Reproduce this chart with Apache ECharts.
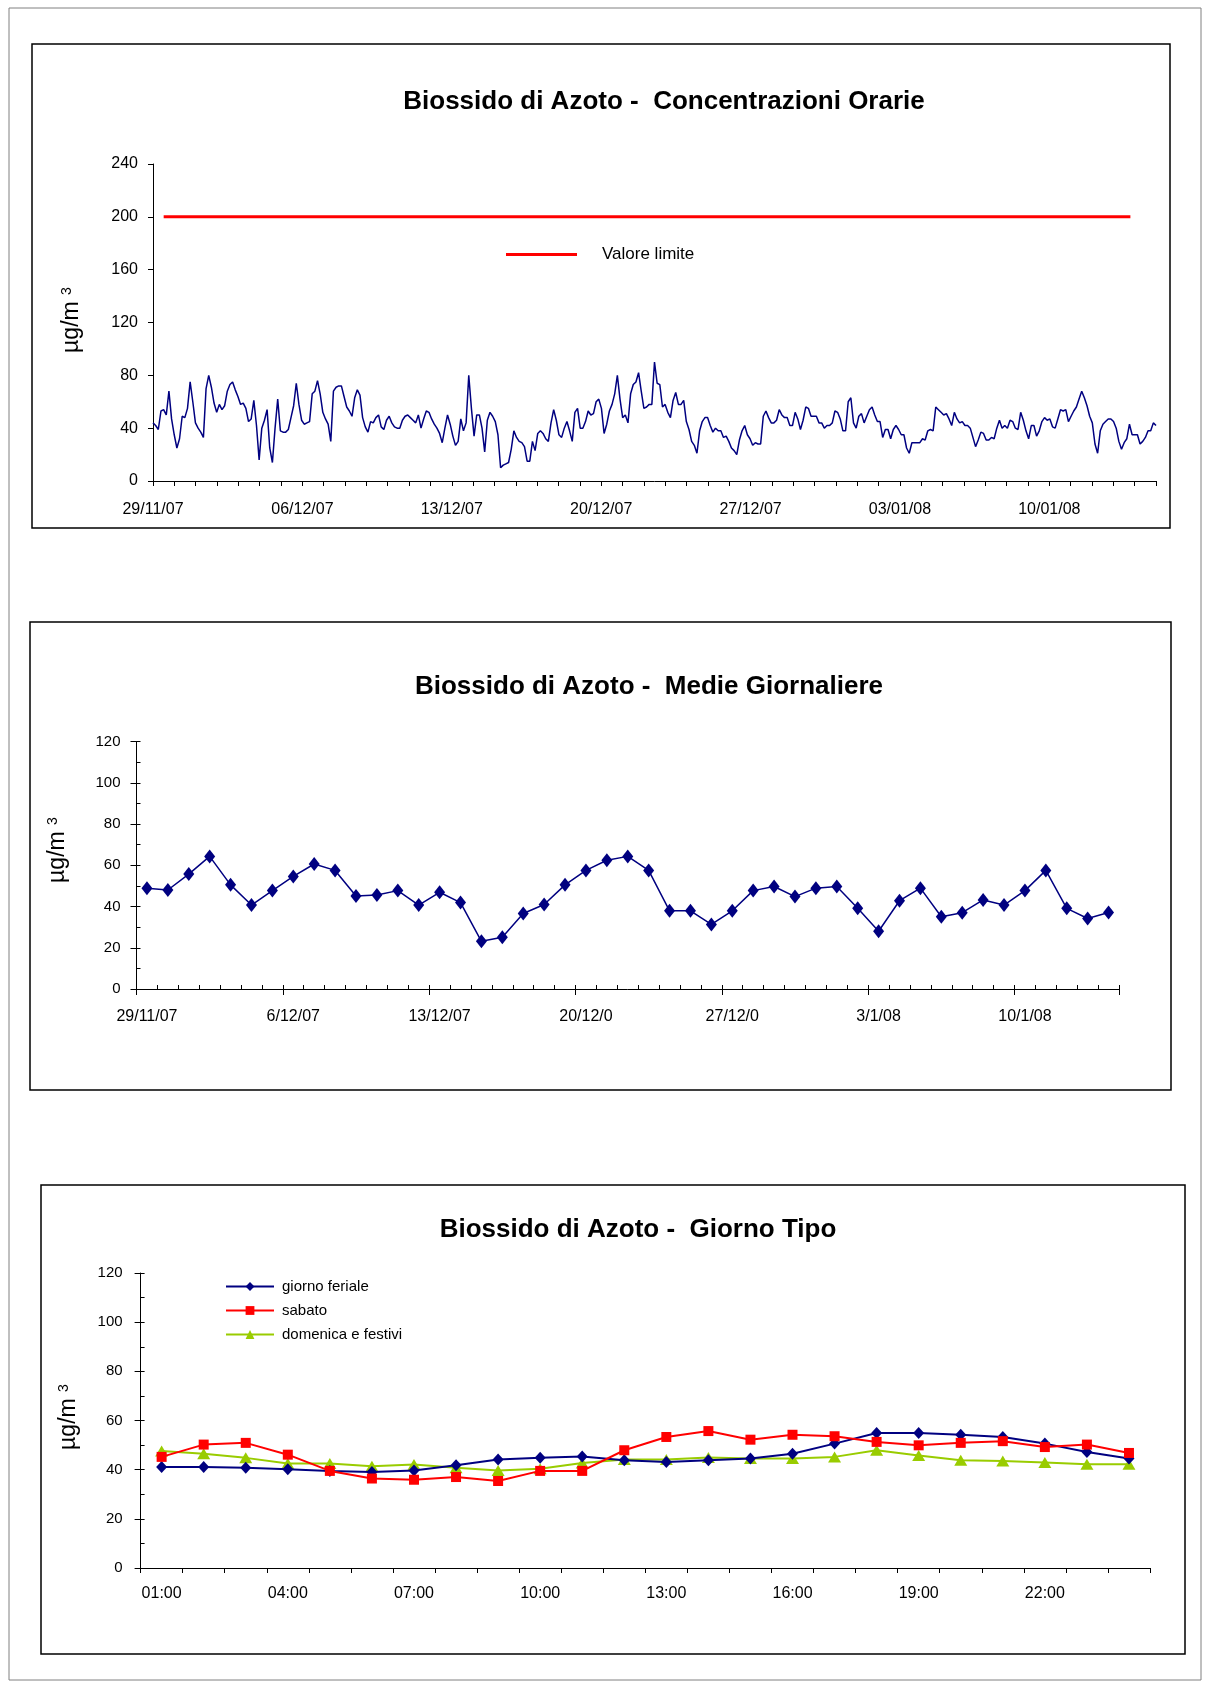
<!DOCTYPE html>
<html><head><meta charset="utf-8">
<script src="https://cdn.jsdelivr.net/npm/echarts@6/dist/echarts.min.js"></script>
<style>html,body{margin:0;padding:0;background:#fff}#c{width:1205px;height:1682px}</style>
</head><body><div id="c"></div><script>
// ---------- Chart 1: hourly concentrations (3-hour readings over 47 days) ----------
const hourlyValues = [
44,42,39,53,54,50,68,47,35,25,32,49,48,55,75,60,44,40,37,33,70,80,71,59,52,58,54,57,68,73,
75,69,64,58,59,55,45,47,61,42,16,40,46,54,25,14,40,62,38,37,37,39,48,57,74,58,46,43,44,45,66,68,
76,66,52,47,43,30,68,71,72,72,64,56,53,49,63,69,65,48,41,37,45,44,48,50,41,39,46,49,44,41,
40,40,46,49,50,48,46,44,50,40,47,53,52,47,43,40,36,29,40,50,43,34,27,30,47,38,44,80,55,34,50,50,40,22,
46,52,49,45,35,10,12,13,14,24,38,33,30,29,26,15,15,30,23,36,38,36,32,30,44,54,46,35,33,40,
45,38,30,52,55,40,40,45,53,50,51,60,62,55,36,43,53,58,66,80,62,48,50,44,66,73,75,82,68,55,56,58,58,
90,74,73,56,58,52,48,61,67,58,58,61,45,39,30,27,21,38,45,48,48,42,37,40,38,38,33,34,30,25,
23,20,31,38,42,35,32,27,29,28,28,49,53,48,44,44,46,54,50,48,48,42,42,52,47,39,46,56,55,49,49,49,44,44,
40,42,42,44,53,52,47,38,38,60,63,44,40,49,51,44,49,54,56,50,45,45,33,39,39,32,39,42,39,35,
35,25,21,29,29,29,29,32,31,38,39,38,56,54,52,50,51,47,42,52,47,44,45,42,42,40,33,26,31,37,36,31,31,
33,32,40,46,40,42,40,46,45,40,39,52,46,38,32,42,42,34,38,45,48,46,47,41,40,47,54,53,54,45,
49,53,56,62,68,63,57,49,44,28,21,38,43,45,47,47,45,40,30,24,29,32,43,35,35,35,28,30,33,38,38,44,42
];
const hourlyDays = 47;
const hourlyTickLabels = ['29/11/07','06/12/07','13/12/07','20/12/07','27/12/07','03/01/08','10/01/08'];
const limitValue = 200;
const limitSpanDays = [0.5, 45.8];

// ---------- Chart 2: daily means ----------
const dailyCategories = ['29/11/07','30/11/07','1/12/07','2/12/07','3/12/07','4/12/07','5/12/07','6/12/07','7/12/07','8/12/07',
'9/12/07','10/12/07','11/12/07','12/12/07','13/12/07','14/12/07','15/12/07','16/12/07','17/12/07','18/12/07','19/12/07',
'20/12/07','21/12/07','22/12/07','23/12/07','24/12/07','25/12/07','26/12/07','27/12/07','28/12/07','29/12/07','30/12/07',
'31/12/07','1/1/08','2/1/08','3/1/08','4/1/08','5/1/08','6/1/08','7/1/08','8/1/08','9/1/08','10/1/08','11/1/08','12/1/08',
'13/1/08','14/1/08'];
const dailyTickLabels = ['29/11/07','6/12/07','13/12/07','20/12/0','27/12/0','3/1/08','10/1/08'];
const dailyValues = [48.9,48.0,55.7,64.3,50.5,40.7,47.7,54.6,60.6,57.5,45.1,45.6,47.7,40.7,46.9,41.9,23.1,25.1,36.6,41.0,
50.5,57.5,62.4,64.3,57.5,37.9,37.9,31.3,37.9,47.7,49.7,44.8,48.9,49.7,39.1,28.0,42.8,48.9,35.0,37.0,43.2,40.7,47.7,57.5,
39.1,34.2,37.1];

// ---------- Chart 3: typical day ----------
const hourCategories = ['01:00','02:00','03:00','04:00','05:00','06:00','07:00','08:00','09:00','10:00','11:00','12:00',
'13:00','14:00','15:00','16:00','17:00','18:00','19:00','20:00','21:00','22:00','23:00','24:00'];
const ferialeValues = [41.1,41.1,40.8,40.2,39.5,39.1,39.7,41.8,44.1,44.8,45.4,43.8,43.1,43.8,44.5,46.5,50.6,54.9,54.9,54.2,53.3,50.6,47.2,44.5];
const sabatoValues = [45.2,50.2,50.9,46.1,39.5,36.4,35.9,37.0,35.4,39.5,39.5,47.9,53.3,55.7,52.2,54.2,53.6,51.3,49.9,50.9,51.6,49.2,50.2,46.8];
const domenicaValues = [47.6,46.5,44.8,42.5,42.5,41.4,42.1,40.8,39.7,40.4,42.7,44.1,44.1,44.9,44.5,44.5,45.2,47.9,45.8,43.8,43.5,42.9,42.2,42.2];

const FONT = '"Liberation Sans", Arial, sans-serif';
const NAVY = '#000080', RED = '#FF0000', GREEN = '#99CC00';
const lbl = (size) => ({fontFamily: FONT, fontSize: size, color: '#000'});

const hourlyData = hourlyValues.map((v, k) => [k * hourlyDays / (hourlyValues.length - 1), v]);

const chart = echarts.init(document.getElementById('c'), null, {renderer: 'canvas'});

function box(x, y, w, h, color, lw) {
  return {type: 'rect', shape: {x: x, y: y, width: w, height: h}, style: {fill: 'none', stroke: color, lineWidth: lw}, silent: true, z: 0};
}
function titleText(text, cx, cy) {
  return {type: 'text', x: cx, y: cy, style: {text: text, fontFamily: FONT, fontSize: 26, fontWeight: 'bold', fill: '#000', align: 'center', verticalAlign: 'middle'}};
}
function unitText(cx, cy) {
  return {type: 'text', x: cx, y: cy, rotation: Math.PI / 2,
    style: {text: '{m|µg/m }{s|3}', align: 'center', verticalAlign: 'middle', fill: '#000',
      rich: {m: {fontFamily: FONT, fontSize: 23, fill: '#000', verticalAlign: 'bottom'},
             s: {fontFamily: FONT, fontSize: 14, fill: '#000', verticalAlign: 'top'}}}};
}

const axisLineBlack = {show: true, lineStyle: {color: '#000', width: 1}};
const tickBlack = (len, inside) => ({show: true, inside: !!inside, length: len, lineStyle: {color: '#000', width: 1}});

const option = {
  animation: false,
  backgroundColor: '#fff',
  graphic: [
    box(9, 8, 1192, 1672, '#808080', 1),
    box(32, 44, 1138, 484, '#000', 1.5),
    box(30, 622, 1141, 468, '#000', 1.5),
    box(41, 1185, 1144, 469, '#000', 1.5),
    titleText('Biossido di Azoto -  Concentrazioni Orarie', 664, 102),
    titleText('Biossido di Azoto -  Medie Giornaliere', 649, 687),
    titleText('Biossido di Azoto -  Giorno Tipo', 638, 1230),
    unitText(72, 320),
    unitText(58, 850),
    unitText(69, 1417)
  ],
  legend: [
    {data: ['Valore limite'], left: 501, top: 241, icon: 'rect', itemWidth: 71, itemHeight: 3,
     selectedMode: false, textStyle: Object.assign(lbl(17), {padding: [0, 0, 0, 20]})},
    {data: ['giorno feriale', 'sabato', 'domenica e festivi'], orient: 'vertical', left: 220, top: 1274,
     itemWidth: 48, itemHeight: 11, itemGap: 9, selectedMode: false,
     textStyle: Object.assign(lbl(15), {padding: [0, 0, 0, 3]})}
  ],
  grid: [
    {left: 153, top: 164, width: 1003, height: 317},
    {left: 136.5, top: 741.5, width: 982.5, height: 247.5},
    {left: 140.6, top: 1273, width: 1009.4, height: 295}
  ],
  xAxis: [
    {type: 'value', gridIndex: 0, min: 0, max: hourlyDays, interval: 1, position: 'bottom',
     axisLine: axisLineBlack, axisTick: tickBlack(5), splitLine: {show: false},
     axisLabel: Object.assign(lbl(16), {margin: 21, hideOverlap: false, showMinLabel: true,
       formatter: v => (v % 7 === 0 && v / 7 < hourlyTickLabels.length) ? hourlyTickLabels[v / 7] : ''})},
    {type: 'category', gridIndex: 1, data: dailyCategories, boundaryGap: true, position: 'bottom',
     axisLine: axisLineBlack, axisTick: Object.assign(tickBlack(6), {interval: 6}), splitLine: {show: false},
     axisLabel: Object.assign(lbl(16), {margin: 20, interval: 6, formatter: (v, i) => dailyTickLabels[i / 7]})},
    {type: 'category', gridIndex: 1, data: dailyCategories, boundaryGap: true, position: 'bottom',
     axisLine: {show: false}, axisTick: Object.assign(tickBlack(4, true), {interval: 0}), axisLabel: {show: false}, splitLine: {show: false}},
    {type: 'category', gridIndex: 2, data: hourCategories, boundaryGap: true, position: 'bottom',
     axisLine: axisLineBlack, axisTick: Object.assign(tickBlack(5), {interval: 0}), splitLine: {show: false},
     axisLabel: Object.assign(lbl(16), {margin: 18, interval: 2})}
  ],
  yAxis: [
    {type: 'value', gridIndex: 0, min: 0, max: 240, interval: 40, position: 'left',
     axisLine: axisLineBlack, axisTick: tickBlack(5), splitLine: {show: false},
     axisLabel: Object.assign(lbl(16), {margin: 15})},
    {type: 'value', gridIndex: 1, min: 0, max: 120, interval: 20, position: 'left',
     axisLine: axisLineBlack, axisTick: tickBlack(6), splitLine: {show: false},
     axisLabel: Object.assign(lbl(15), {margin: 16})},
    {type: 'value', gridIndex: 1, min: 0, max: 120, interval: 10, position: 'left',
     axisLine: {show: false}, axisTick: tickBlack(4, true), axisLabel: {show: false}, splitLine: {show: false}},
    {type: 'value', gridIndex: 2, min: 0, max: 120, interval: 20, position: 'left',
     axisLine: axisLineBlack, axisTick: tickBlack(6), splitLine: {show: false},
     axisLabel: Object.assign(lbl(15), {margin: 18})},
    {type: 'value', gridIndex: 2, min: 0, max: 120, interval: 10, position: 'left',
     axisLine: {show: false}, axisTick: tickBlack(4, true), axisLabel: {show: false}, splitLine: {show: false}}
  ],
  series: [
    {name: 'Concentrazioni orarie', type: 'line', xAxisIndex: 0, yAxisIndex: 0, data: hourlyData,
     showSymbol: false, lineStyle: {color: NAVY, width: 1.5}, itemStyle: {color: NAVY}, z: 3},
    {name: 'Valore limite', type: 'line', xAxisIndex: 0, yAxisIndex: 0,
     data: [[limitSpanDays[0], limitValue], [limitSpanDays[1], limitValue]],
     showSymbol: false, lineStyle: {color: RED, width: 3}, itemStyle: {color: RED}, z: 2},
    {name: 'Medie giornaliere', type: 'line', xAxisIndex: 1, yAxisIndex: 1, data: dailyValues,
     symbol: 'diamond', symbolSize: [11, 14], showAllSymbol: true,
     lineStyle: {color: NAVY, width: 1.5}, itemStyle: {color: NAVY}},
    {name: 'giorno feriale', type: 'line', xAxisIndex: 3, yAxisIndex: 3, data: ferialeValues,
     symbol: 'diamond', symbolSize: [11, 12], showAllSymbol: true,
     lineStyle: {color: NAVY, width: 2}, itemStyle: {color: NAVY}, z: 3},
    {name: 'sabato', type: 'line', xAxisIndex: 3, yAxisIndex: 3, data: sabatoValues,
     symbol: 'rect', symbolSize: 10, showAllSymbol: true,
     lineStyle: {color: RED, width: 2}, itemStyle: {color: RED}, z: 4},
    {name: 'domenica e festivi', type: 'line', xAxisIndex: 3, yAxisIndex: 3, data: domenicaValues,
     symbol: 'triangle', symbolSize: [13, 11], showAllSymbol: true,
     lineStyle: {color: GREEN, width: 2}, itemStyle: {color: GREEN}, z: 2}
  ]
};
chart.setOption(option);
</script></body></html>
